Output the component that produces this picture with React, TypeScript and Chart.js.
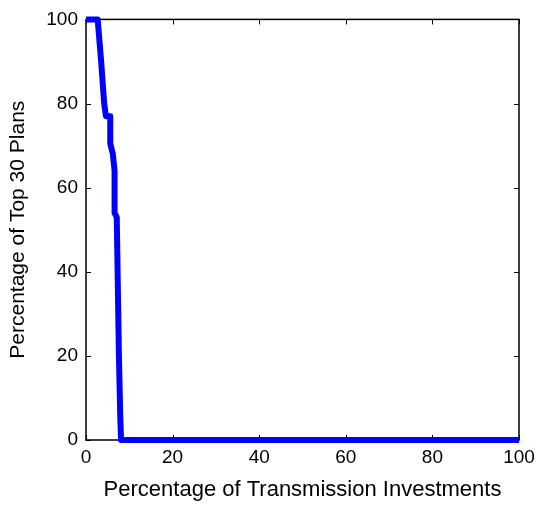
import React, { useEffect, useRef } from "react";
import { Chart, registerables } from "chart.js";

Chart.register(...registerables);

const xValues = [0, 2.7, 3.5, 4.2, 4.6, 5.6, 5.6, 6.2, 6.6, 6.6, 7.1, 7.3, 7.6, 7.9, 8.1, 100];
const yValues = [100, 100, 90, 80, 77, 77, 70.5, 68, 64, 54, 53, 40, 20, 6, 0, 0];
const xTicks = [0, 20, 40, 60, 80, 100];
const yTicks = [0, 20, 40, 60, 80, 100];
const xTitle = "Percentage of Transmission Investments";
const yTitle = "Percentage of Top 30 Plans";

const FONT = "'Liberation Sans', Arial, sans-serif";

const boxPlugin = {
  id: "matlabBox",
  beforeDatasetsDraw(chart: any) {
    const { ctx, chartArea: a, scales } = chart;
    ctx.save();
    ctx.strokeStyle = "#000";
    ctx.lineWidth = 1;
    const L = 5;
    ctx.beginPath();
    xTicks.forEach((v) => {
      const x = Math.round(scales.x.getPixelForValue(v)) + 0.5;
      ctx.moveTo(x, a.bottom);
      ctx.lineTo(x, a.bottom - L);
      ctx.moveTo(x, a.top);
      ctx.lineTo(x, a.top + L);
    });
    yTicks.forEach((v) => {
      const y = Math.round(scales.y.getPixelForValue(v)) + 0.5;
      ctx.moveTo(a.left, y);
      ctx.lineTo(a.left + L, y);
      ctx.moveTo(a.right, y);
      ctx.lineTo(a.right - L, y);
    });
    ctx.stroke();
    ctx.lineWidth = 1.5;
    ctx.strokeRect(a.left, a.top, a.right - a.left, a.bottom - a.top);
    ctx.restore();
  },
};

export default function App() {
  const ref = useRef<HTMLCanvasElement>(null);
  useEffect(() => {
    if (!ref.current) return;
    const data = xValues.map((x, i) => ({ x, y: yValues[i] }));
    const chart = new Chart(ref.current, {
      type: "line",
      data: {
        datasets: [
          {
            data,
            borderColor: "#0000ff",
            borderWidth: 6,
            pointRadius: 0,
            tension: 0,
            fill: false,
            clip: false as any,
            borderJoinStyle: "round",
          },
        ],
      },
      options: {
        animation: false,
        responsive: false,
        layout: { padding: { top: 16, right: 23, left: 0, bottom: 0 } },
        plugins: { legend: { display: false }, tooltip: { enabled: false } },
        scales: {
          x: {
            type: "linear",
            min: 0,
            max: 100,
            afterBuildTicks: (s: any) => {
              s.ticks = xTicks.map((v) => ({ value: v }));
            },
            afterFit: (s: any) => {
              s.height = 68;
            },
            grid: { display: false, drawTicks: false },
            border: { display: false },
            ticks: {
              color: "#000",
              padding: 6,
              maxRotation: 0,
              font: { family: FONT, size: 19 },
            },
            title: {
              display: true,
              text: xTitle,
              color: "#000",
              font: { family: FONT, size: 22 },
              padding: { top: 0, bottom: 5 },
            },
          },
          y: {
            type: "linear",
            min: 0,
            max: 100,
            afterBuildTicks: (s: any) => {
              s.ticks = yTicks.map((v) => ({ value: v }));
            },
            afterFit: (s: any) => {
              s.width = 86;
            },
            grid: { display: false, drawTicks: false },
            border: { display: false },
            ticks: {
              color: "#000",
              padding: 8,
              font: { family: FONT, size: 19 },
            },
            title: {
              display: true,
              text: yTitle,
              color: "#000",
              font: { family: FONT, size: 21 },
              padding: { top: 6, bottom: 0 },
            },
          },
        },
      },
      plugins: [boxPlugin],
    });
    return () => chart.destroy();
  }, []);
  return (
    <div style={{ position: "absolute", left: 0, top: 0, width: 542, height: 508, background: "#fff" }}>
      <canvas ref={ref} width={542} height={508} />
    </div>
  );
}
